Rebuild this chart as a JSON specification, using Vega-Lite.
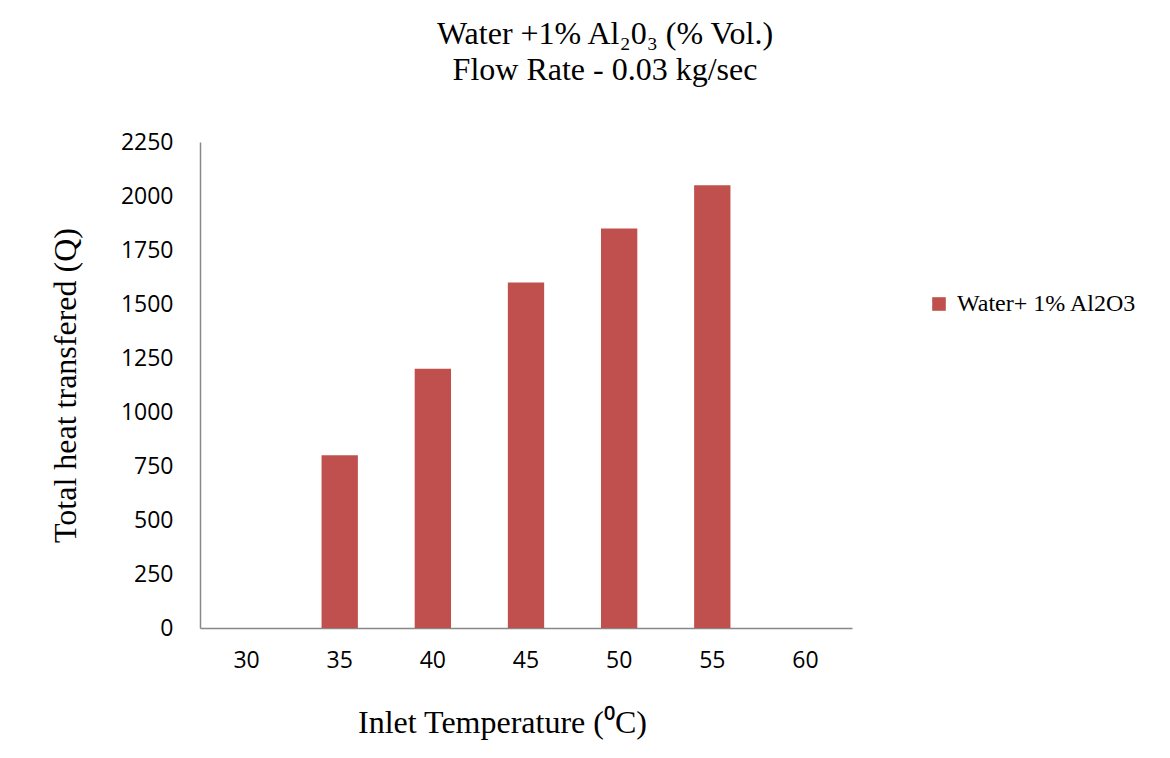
{
  "$schema": "https://vega.github.io/schema/vega-lite/v6.json",
  "width": 652,
  "height": 486,
  "autosize": {"type": "none"},
  "padding": {"left": 200, "top": 142, "right": 318, "bottom": 130},
  "background": "white",
  "title": {
    "text": ["Water +1% Al₂0₃ (% Vol.)", "Flow Rate - 0.03 kg/sec"],
    "font": "Liberation Serif",
    "fontSize": 32,
    "fontWeight": "normal",
    "color": "black",
    "anchor": "middle",
    "dx": 79,
    "offset": 44,
    "lineHeight": 36
  },
  "data": {
    "values": [
      {"temp": "30", "q": 0, "series": "Water+ 1% Al2O3"},
      {"temp": "35", "q": 800, "series": "Water+ 1% Al2O3"},
      {"temp": "40", "q": 1200, "series": "Water+ 1% Al2O3"},
      {"temp": "45", "q": 1600, "series": "Water+ 1% Al2O3"},
      {"temp": "50", "q": 1850, "series": "Water+ 1% Al2O3"},
      {"temp": "55", "q": 2050, "series": "Water+ 1% Al2O3"},
      {"temp": "60", "q": 0, "series": "Water+ 1% Al2O3"}
    ]
  },
  "mark": {"type": "bar"},
  "encoding": {
    "x": {
      "field": "temp",
      "type": "ordinal",
      "scale": {"paddingInner": 0.61, "paddingOuter": 0.305},
      "axis": {
        "title": "Inlet Temperature (⁰C)",
        "titleFont": "Liberation Serif",
        "titleFontSize": 32,
        "titleFontWeight": "normal",
        "titleColor": "black",
        "titlePadding": 35,
        "titleX": 302,
        "labelFont": "Open Sans",
        "labelFontSize": 23,
        "labelColor": "black",
        "labelAngle": 0,
        "labelPadding": 21,
        "ticks": false,
        "domainColor": "#888888",
        "domainWidth": 1.5
      }
    },
    "y": {
      "field": "q",
      "type": "quantitative",
      "scale": {"domain": [0, 2250], "nice": false},
      "axis": {
        "title": "Total heat transfered (Q)",
        "titleFont": "Liberation Serif",
        "titleFontSize": 32,
        "titleFontWeight": "normal",
        "titleColor": "black",
        "titlePadding": 38,
        "values": [0, 250, 500, 750, 1000, 1250, 1500, 1750, 2000, 2250],
        "format": "d",
        "labelFont": "Open Sans",
        "labelFontSize": 23,
        "labelColor": "black",
        "labelPadding": 27,
        "ticks": false,
        "grid": false,
        "domainColor": "#888888",
        "domainWidth": 1.5
      }
    },
    "color": {
      "field": "series",
      "type": "nominal",
      "scale": {"range": ["#C0504D"]},
      "legend": {
        "title": null,
        "orient": "none",
        "legendX": 727,
        "legendY": 150,
        "symbolType": "square",
        "symbolSize": 185,
        "labelFont": "Liberation Serif",
        "labelFontSize": 24,
        "labelLimit": 400,
        "labelColor": "black",
        "labelOffset": 6
      }
    }
  },
  "config": {
    "view": {"stroke": null}
  }
}
